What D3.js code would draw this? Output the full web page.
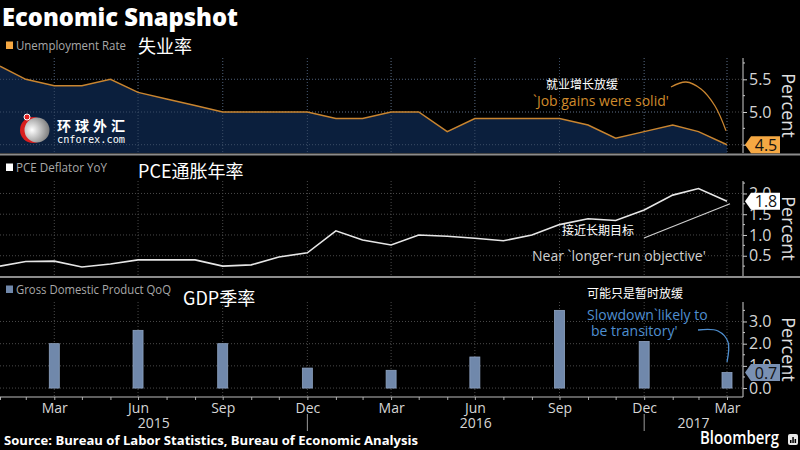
<!DOCTYPE html>
<html>
<head>
<meta charset="utf-8">
<script src="https://cdn.jsdelivr.net/npm/d3@7"></script>
<style>
  html, body { margin: 0; padding: 0; background: #000; }
  svg { display: block; }
  text { font-family: "Open Sans", "Noto Sans", sans-serif; }
  .cjk { font-family: "Noto Sans CJK SC", sans-serif; fill: #fff; }
</style>
</head>
<body>
<div id="chart"></div>
<script>
/* Economic Snapshot - three stacked panels */

// monthly points, Jan 2015 .. Mar 2017 (month ends)
const firstMonth = new Date(2015, 0, 31);
const monthCount = 27;

const unemployment = [5.7, 5.5, 5.4, 5.4, 5.5, 5.3, 5.2, 5.1, 5.0, 5.0, 5.0, 5.0,
                      4.9, 4.9, 5.0, 5.0, 4.7, 4.9, 4.9, 4.9, 4.9, 4.8, 4.6, 4.7,
                      4.8, 4.7, 4.5];

const pce = [0.25, 0.36, 0.37, 0.23, 0.30, 0.40, 0.40, 0.40, 0.25, 0.28, 0.47, 0.57,
             1.10, 0.88, 0.76, 1.00, 0.97, 0.92, 0.86, 1.00, 1.25, 1.39, 1.35, 1.60,
             1.96, 2.12, 1.81];

// quarterly GDP, Mar 2015 .. Mar 2017
const gdpQuarters = ["2015-03", "2015-06", "2015-09", "2015-12", "2016-03",
                     "2016-06", "2016-09", "2016-12", "2017-03"];
const gdp = [2.0, 2.6, 2.0, 0.9, 0.8, 1.4, 3.5, 2.1, 0.7];

const unempTicks = [4.5, 5.0, 5.5];
const pceTicks = [0.5, 1.0, 1.5, 2.0];
const gdpTicks = [0.0, 1.0, 2.0, 3.0];
const years = [2015, 2016, 2017];

const width = 800,
      height = 450,
      plotRight = 743;

const months = d3.range(monthCount).map(i =>
    new Date(firstMonth.getFullYear(), firstMonth.getMonth() + i + 1, 0));
const monthEnd = s => {
    const [yy, mm] = s.split("-").map(Number);
    return new Date(yy, mm, 0);
};
const quarterMonths = months.filter(d => d.getMonth() % 3 === 2);

const svg = d3.select("#chart")
    .append("svg")
    .attr("width", width)
    .attr("height", height);

let x = d3.scaleTime()
    .domain([months[0], months[months.length - 1]])
    .range([0, 727]);

const panels = [
    { key: "u", top: 58, bottom: 153, y: d3.scaleLinear().domain([4.373, 5.826]).range([153, 58]),
      ticks: unempTicks, minor: [4.75, 5.25, 5.75], fmt: d3.format(".1f") },
    { key: "p", top: 181, bottom: 276, y: d3.scaleLinear().domain([0, 2.3]).range([276.5, 181]),
      ticks: pceTicks, minor: [0.25, 0.75, 1.25, 1.75, 2.25], fmt: d3.format(".1f") },
    { key: "g", top: 302, bottom: 397, y: d3.scaleLinear().domain([-0.38, 3.9]).range([396.5, 301.5]),
      ticks: gdpTicks, minor: [0.5, 1.5, 2.5, 3.5], fmt: d3.format(".1f") }
];

// gridlines
panels.forEach(p => {
    const g = svg.append("g");
    g.selectAll(".hg")
        .data(p.ticks)
        .join("line")
        .attr("x1", 0).attr("x2", plotRight)
        .attr("y1", d => p.y(d)).attr("y2", d => p.y(d))
        .attr("stroke", "#4a4a4a")
        .attr("stroke-dasharray", "1,2");
    g.selectAll(".vg")
        .data(quarterMonths)
        .join("line")
        .attr("x1", d => x(d)).attr("x2", d => x(d))
        .attr("y1", p.top).attr("y2", p.bottom)
        .attr("stroke", "#4a4a4a")
        .attr("stroke-dasharray", "1,2");
});

// --- unemployment area
const pu = panels[0];
svg.append("path")
    .datum(unemployment)
    .attr("fill", "#0b1f3d")
    .attr("d", d3.area().x((d, i) => x(months[i])).y0(pu.bottom).y1(d => pu.y(d)));

// regrid on top of the navy fill
svg.append("g").selectAll("line")
    .data(pu.ticks)
    .join("line")
    .attr("x1", 0).attr("x2", 727)
    .attr("y1", d => pu.y(d)).attr("y2", d => pu.y(d))
    .attr("stroke", "#3b4d66")
    .attr("stroke-dasharray", "1,2");
svg.append("g").selectAll("line")
    .data(quarterMonths)
    .join("line")
    .attr("x1", d => x(d)).attr("x2", d => x(d))
    .attr("y1", pu.top).attr("y2", pu.bottom)
    .attr("stroke", "#3b4d66")
    .attr("stroke-dasharray", "1,2");

svg.append("path")
    .datum(unemployment)
    .attr("fill", "none")
    .attr("stroke", "#c98530")
    .attr("stroke-width", 1.5)
    .attr("d", d3.line().x((d, i) => x(months[i])).y(d => pu.y(d)));

// --- PCE line
const pp = panels[1];
svg.append("path")
    .datum(pce)
    .attr("fill", "none")
    .attr("stroke", "#e6e6e6")
    .attr("stroke-width", 1.6)
    .attr("d", d3.line().x((d, i) => x(months[i])).y(d => pp.y(d)));

// --- GDP bars
const pg = panels[2];
svg.append("g").selectAll("rect")
    .data(gdp)
    .join("rect")
    .attr("x", (d, i) => x(monthEnd(gdpQuarters[i])) - 5)
    .attr("width", 10)
    .attr("y", d => pg.y(d))
    .attr("height", d => pg.y(0) - pg.y(d))
    .attr("fill", "#7088ab")
    .attr("stroke", "#8fa4c2")
    .attr("stroke-width", 0.8);

// separators between panels
[154.5, 277].forEach(yy => {
    svg.append("line")
        .attr("x1", 0).attr("x2", width)
        .attr("y1", yy).attr("y2", yy)
        .attr("stroke", "#8c8c8c")
        .attr("stroke-width", 2);
});

// right axes
panels.forEach(p => {
    const ax = svg.append("g")
        .attr("transform", `translate(${plotRight},0)`)
        .call(d3.axisRight(p.y).tickValues(p.ticks).tickSize(4).tickPadding(2).tickFormat(p.fmt));
    ax.select(".domain").remove();
    ax.selectAll(".tick line").attr("stroke", "#ccc");
    ax.selectAll("text").attr("fill", "#d6d6d6").style("font-size", "16px");
    svg.append("g").selectAll("line")
        .data(p.minor)
        .join("line")
        .attr("x1", plotRight).attr("x2", plotRight + 2)
        .attr("y1", d => p.y(d)).attr("y2", d => p.y(d))
        .attr("stroke", "#ccc");
    svg.append("line")
        .attr("x1", plotRight).attr("x2", plotRight)
        .attr("y1", p.top).attr("y2", p.bottom)
        .attr("stroke", "#cfcfcf");
    svg.append("text")
        .attr("transform", `translate(782,${(p.top + p.bottom) / 2}) rotate(90)`)
        .attr("text-anchor", "middle")
        .attr("fill", "#e0e0e0")
        .style("font-size", "18px")
        .text("Percent");
});

// last value tags (drawn over the tick labels, as in the original)
const tags = [
    { p: panels[0], v: unemployment[unemployment.length - 1], fill: "#f5a843" },
    { p: panels[1], v: pce[pce.length - 1], fill: "#ffffff" },
    { p: panels[2], v: gdp[gdp.length - 1], fill: "#7990b2" }
];
tags.forEach(t => {
    const yc = t.p.y(t.v);
    svg.append("path")
        .attr("d", `M745,${yc} L751,${yc - 8.5} L780,${yc - 8.5} L780,${yc + 8.5} L751,${yc + 8.5} Z`)
        .attr("fill", t.fill);
    svg.append("text")
        .attr("x", 766).attr("y", yc + 6)
        .attr("text-anchor", "middle")
        .attr("fill", "#111")
        .style("font-size", "16px")
        .text(d3.format(".1f")(t.v));
});

// x axis
const xAxis = svg.append("g")
    .attr("transform", "translate(0,397)")
    .call(d3.axisBottom(x).tickValues(months).tickSize(3).tickPadding(3)
        .tickFormat(d => d.getMonth() % 3 === 2 ? d3.timeFormat("%b")(d) : ""));
xAxis.select(".domain").remove();
xAxis.selectAll(".tick line").attr("stroke", "#aaa");
xAxis.selectAll("text").attr("fill", "#d6d6d6").style("font-size", "14px");
svg.append("line")
    .attr("x1", 0).attr("x2", plotRight)
    .attr("y1", 397).attr("y2", 397)
    .attr("stroke", "#bdbdbd");

// years and separators
const yearStart = yy => Math.max(0, x(new Date(yy - 1, 11, 31)));
const yearEnd = yy => Math.min(plotRight, x(new Date(yy, 11, 31)));
svg.append("g").selectAll("text")
    .data(years)
    .join("text")
    .attr("x", d => (yearStart(d) + yearEnd(d)) / 2)
    .attr("y", 428)
    .attr("text-anchor", "middle")
    .attr("fill", "#d6d6d6")
    .style("font-size", "14px")
    .text(d => d);
svg.append("g").selectAll("line")
    .data(years.slice(1))
    .join("line")
    .attr("x1", d => x(new Date(d - 1, 11, 31))).attr("x2", d => x(new Date(d - 1, 11, 31)))
    .attr("y1", 414).attr("y2", 431)
    .attr("stroke", "#9a9a9a");

// title, legends
svg.append("text")
    .attr("x", 2).attr("y", 26)
    .attr("fill", "#fff")
    .style("font-size", "24px").style("font-weight", "800")
    .attr("textLength", 236).attr("lengthAdjust", "spacingAndGlyphs")
    .text("Economic Snapshot");

const legends = [
    { label: "Unemployment Rate", w: 110, color: "#f5a843", y: 50, cn: "失业率", cnx: 138, cny: 53 },
    { label: "PCE Deflator YoY", w: 91, color: "#ffffff", y: 172, cn: "PCE通胀年率", cnx: 138, cny: 178 },
    { label: "Gross Domestic Product QoQ", w: 155, color: "#7088ab", y: 294, cn: "GDP季率", cnx: 183, cny: 305 }
];
legends.forEach(l => {
    svg.append("rect")
        .attr("x", 6).attr("y", l.y - 8.5).attr("width", 7).attr("height", 7.5)
        .attr("fill", l.color);
    svg.append("text")
        .attr("x", 16).attr("y", l.y)
        .attr("fill", "#a8a8a8")
        .style("font-size", "13px")
        .attr("textLength", l.w).attr("lengthAdjust", "spacingAndGlyphs")
        .text(l.label);
    svg.append("text")
        .attr("class", "cjk")
        .attr("x", l.cnx).attr("y", l.cny)
        .style("font-size", "18px")
        .text(l.cn);
});

// annotations
svg.append("text").attr("class", "cjk")
    .attr("x", 546).attr("y", 89).style("font-size", "12px").text("就业增长放缓");
svg.append("text")
    .attr("x", 533).attr("y", 106).attr("fill", "#d08b2c").style("font-size", "14px")
    .text("`Job gains were solid'");
svg.append("path")
    .attr("fill", "none").attr("stroke", "#c98530").attr("stroke-width", 1.3)
    .attr("d", d3.line().curve(d3.curveCatmullRom)([
        [671, 87], [686, 82], [701, 89], [715, 106], [x(months[26]) - 1, pu.y(4.5) - 14]
    ]));

svg.append("text").attr("class", "cjk")
    .attr("x", 562).attr("y", 235).style("font-size", "12px").text("接近长期目标");
svg.append("text")
    .attr("x", 532).attr("y", 261).attr("fill", "#cfcfcf").style("font-size", "14px")
    .text("Near `longer-run objective'");
svg.append("line")
    .attr("x1", 644).attr("y1", 238)
    .attr("x2", x(months[26]) + 3).attr("y2", pp.y(1.8) + 2)
    .attr("stroke", "#cfcfcf").attr("stroke-width", 1.2);

svg.append("text").attr("class", "cjk")
    .attr("x", 587).attr("y", 298).style("font-size", "12px").text("可能只是暂时放缓");
svg.append("text")
    .attr("x", 587).attr("y", 320).attr("fill", "#4f8fd0").style("font-size", "14px")
    .text("Slowdown`likely to");
svg.append("text")
    .attr("x", 591).attr("y", 336).attr("fill", "#4f8fd0").style("font-size", "14px")
    .text("be transitory'");
svg.append("path")
    .attr("fill", "none").attr("stroke", "#4f8fd0").attr("stroke-width", 1.3)
    .attr("d", d3.line().curve(d3.curveCatmullRom)([
        [698, 330], [718, 331], [728, 342], [727, 362]
    ]));

// watermark logo
const logo = svg.append("g");
const grad = svg.append("defs").append("radialGradient")
    .attr("id", "ball").attr("cx", "30%").attr("cy", "50%").attr("r", "70%");
grad.append("stop").attr("offset", "0%").attr("stop-color", "#ffffff");
grad.append("stop").attr("offset", "100%").attr("stop-color", "#7d7d7d");
logo.append("circle").attr("cx", 33).attr("cy", 130).attr("r", 13).attr("fill", "#d81e1e");
logo.append("circle").attr("cx", 37).attr("cy", 130).attr("r", 12.5).attr("fill", "url(#ball)");
logo.append("circle").attr("cx", 27).attr("cy", 117).attr("r", 3).attr("fill", "#e02020")
    .attr("stroke", "#fff").attr("stroke-width", 1);
logo.append("text")
    .attr("x", 57).attr("y", 131)
    .attr("fill", "#fff")
    .style("font-family", "'Noto Sans CJK SC', sans-serif")
    .style("font-size", "14px").style("font-weight", "bold")
    .attr("textLength", 68).attr("lengthAdjust", "spacing")
    .text("环球外汇");
logo.append("text")
    .attr("x", 57).attr("y", 143)
    .attr("fill", "#fff")
    .style("font-family", "'DejaVu Sans Mono', monospace")
    .style("font-size", "10px")
    .attr("textLength", 68).attr("lengthAdjust", "spacingAndGlyphs")
    .text("cnforex.com");

// footer
svg.append("text")
    .attr("x", 4).attr("y", 445)
    .attr("fill", "#fff")
    .style("font-size", "12.5px").style("font-weight", "bold")
    .attr("textLength", 414).attr("lengthAdjust", "spacingAndGlyphs")
    .text("Source: Bureau of Labor Statistics, Bureau of Economic Analysis");
svg.append("text")
    .attr("x", 700).attr("y", 444)
    .attr("fill", "#fff")
    .style("font-size", "18px").style("font-weight", "600")
    .attr("textLength", 79).attr("lengthAdjust", "spacingAndGlyphs")
    .text("Bloomberg");
svg.append("rect")
    .attr("x", 788).attr("y", 434).attr("width", 10).attr("height", 11).attr("rx", 2)
    .attr("fill", "#e8e8e8");
svg.append("g").selectAll("rect")
    .data([3, 6, 4])
    .join("rect")
    .attr("x", (d, i) => 790 + i * 2.3).attr("y", d => 443 - d)
    .attr("width", 1.5).attr("height", d => d)
    .attr("fill", "#000");
</script>
</body>
</html>
